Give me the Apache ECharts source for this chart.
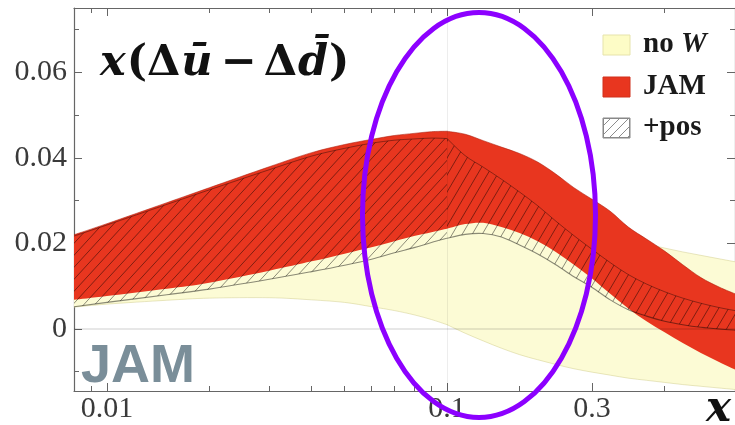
<!DOCTYPE html>
<html><head><meta charset="utf-8">
<script src="https://cdn.jsdelivr.net/npm/echarts@6/dist/echarts.min.js"></script>
<style>html,body{margin:0;padding:0;background:#fff}#c{width:735px;height:425px}</style>
</head><body><div id="c"></div>
<script>
// ---------------- data ----------------
const X = [0.008, 0.01, 0.015, 0.02, 0.03, 0.04, 0.05, 0.06, 0.07, 0.08, 0.09, 0.1,
           0.125, 0.15, 0.175, 0.2, 0.225, 0.25, 0.275, 0.3, 0.325, 0.35, 0.375, 0.4, 0.425, 0.45, 0.475, 0.5];
const noWLower = [0.0051, 0.0058, 0.0067, 0.0072, 0.0073, 0.0068, 0.0062, 0.0052, 0.0043, 0.0033, 0.0022, 0.0010,
                  -0.0010, -0.0028, -0.0045, -0.0060, -0.0072, -0.0083, -0.0093, -0.0101, -0.0108, -0.0115, -0.0120, -0.0125, -0.0130, -0.0134, -0.0138, -0.0142];
const noWUpper = [0.0120, 0.0130, 0.0160, 0.0180, 0.0220, 0.0250, 0.0270, 0.0290, 0.0300, 0.0310, 0.0320, 0.0330,
                  0.0330, 0.0320, 0.0310, 0.0290, 0.0270, 0.0250, 0.0230, 0.0215, 0.0208, 0.0203, 0.0198, 0.0189, 0.0180, 0.0172, 0.0164, 0.0156];
const jamLower = [0.0068, 0.0077, 0.0094, 0.0108, 0.0136, 0.0158, 0.0176, 0.0191, 0.0205, 0.0217, 0.0226, 0.0234,
                  0.0245, 0.0248, 0.0238, 0.0224, 0.0205, 0.0180, 0.0150, 0.0118, 0.0082, 0.0048, 0.0018, -0.0008, -0.0033, -0.0056, -0.0077, -0.0097];
const jamUpper = [0.0220, 0.0246, 0.0295, 0.0330, 0.0379, 0.0412, 0.0431, 0.0443, 0.0452, 0.0457, 0.0461, 0.0462,
                  0.0455, 0.0440, 0.0425, 0.0410, 0.0390, 0.0362, 0.0330, 0.0303, 0.0275, 0.0238, 0.0210, 0.0182, 0.0150, 0.0120, 0.0098, 0.0080];
const posLower = [0.0052, 0.0062, 0.0080, 0.0093, 0.0116, 0.0134, 0.0149, 0.0163, 0.0178, 0.0190, 0.0202, 0.0212,
                  0.0221, 0.0223, 0.0215, 0.0196, 0.0175, 0.0150, 0.0122, 0.0097, 0.0068, 0.0045, 0.0030, 0.0018, 0.0010, 0.0004, 0.0000, -0.0003];
const posUpper = [0.0217, 0.0243, 0.0291, 0.0325, 0.0372, 0.0404, 0.0422, 0.0434, 0.0441, 0.0444, 0.0446, 0.0445,
                  0.0405, 0.0378, 0.0350, 0.0320, 0.0288, 0.0252, 0.0218, 0.0186, 0.0155, 0.0127, 0.0105, 0.0087, 0.0072, 0.0060, 0.0050, 0.0042];

const yRange = [-0.0145, 0.075];
const xLogRange = [0.008, 0.1];
const xLinRange = [0.1, 0.497];
const yMajorTicks = [0, 0.02, 0.04, 0.06];
const yMinorTicks = [-0.01, 0.01, 0.03, 0.05, 0.07];
const yLabels = [0, 0.02, 0.04, 0.06];
const xLogMajorTicks = [0.01, 0.1];
const xLogMinorTicks = [0.009, 0.02, 0.03, 0.04, 0.05, 0.06, 0.07, 0.08, 0.09];
const xLinMajorTicks = [0.3];
const xLinMinorTicks = [0.2, 0.4];
const xLogLabels = [0.01];
const xLinLabels = [0.1, 0.3];
const legendNames = ['no ', 'JAM', '+pos'];

// ---------------- styles ----------------
const SERIF = '"Liberation Serif", "Times New Roman", serif';
const AXIS = '#666';
const YELLOW = '#fcfbd5';
const RED = '#e8361f';

function hatch(w, h, color) {
  const c = document.createElement('canvas');
  c.width = w; c.height = h;
  const g = c.getContext('2d');
  g.strokeStyle = color; g.lineWidth = 1;
  for (const dx of [-w, 0, w]) {
    g.beginPath(); g.moveTo(dx, h); g.lineTo(dx + w, 0); g.stroke();
  }
  return c;
}
const hatchLog = {image: hatch(11, 12, 'rgba(0,0,0,0.45)'), repeat: 'repeat'};
const hatchLin = {image: hatch(10, 17, 'rgba(0,0,0,0.45)'), repeat: 'repeat'};
const hatchLegend = {image: hatch(9, 9, 'rgba(0,0,0,0.45)'), repeat: 'repeat'};

const fmt = v => { const n = +(+v).toPrecision(3); return n === 0 ? '0' : String(n); };

function xa(grid, type, range, pos, ticks, len, labels, showLine) {
  return {
    type, gridIndex: grid, min: range[0], max: range[1], position: pos, logBase: 10,
    axisLine: {show: showLine, onZero: false, lineStyle: {color: AXIS, width: 1.2}},
    axisTick: {show: true, inside: true, length: len, customValues: ticks, lineStyle: {color: AXIS, width: 1}},
    axisLabel: labels ? {show: true, customValues: labels, margin: 3, color: '#3a3a3a',
      fontFamily: SERIF, fontSize: 30, formatter: fmt, showMinLabel: true, showMaxLabel: true} : {show: false},
    splitLine: {show: false}
  };
}
function ya(grid, pos, ticks, len, labels, showLine) {
  return {
    type: 'value', gridIndex: grid, min: yRange[0], max: yRange[1], position: pos,
    axisLine: {show: showLine, onZero: false, lineStyle: {color: AXIS, width: 1.2}},
    axisTick: {show: true, inside: true, length: len, customValues: ticks, lineStyle: {color: AXIS, width: 1}},
    axisLabel: labels ? {show: true, customValues: labels, margin: 7, color: '#3a3a3a',
      fontFamily: SERIF, fontSize: 30, formatter: fmt} : {show: false},
    splitLine: {show: false}
  };
}

const xAxis = [
  xa(0, 'log', xLogRange, 'bottom', xLogMajorTicks, 8, xLogLabels, true),   // 0
  xa(0, 'log', xLogRange, 'bottom', xLogMinorTicks, 5, null, false),        // 1
  xa(0, 'log', xLogRange, 'top', xLogMajorTicks, 8, null, true),            // 2
  xa(0, 'log', xLogRange, 'top', xLogMinorTicks, 5, null, false),           // 3
  xa(1, 'value', xLinRange, 'bottom', xLinMajorTicks, 8, xLinLabels, true), // 4
  xa(1, 'value', xLinRange, 'bottom', xLinMinorTicks, 5, null, false),      // 5
  xa(1, 'value', xLinRange, 'top', xLinMajorTicks, 8, null, true),          // 6
  xa(1, 'value', xLinRange, 'top', xLinMinorTicks, 5, null, false)          // 7
];
const yAxis = [
  ya(0, 'left', yMajorTicks, 8, yLabels, true),   // 0
  ya(0, 'left', yMinorTicks, 5, null, false),     // 1
  ya(1, 'right', yMajorTicks, 8, null, true),     // 2
  ya(1, 'right', yMinorTicks, 5, null, false)     // 3
];

const idxFor = g => X.map((x, i) => i).filter(i => g === 0 ? X[i] <= 0.1 : X[i] >= 0.1);

// Catmull-Rom -> cubic Bezier segments through pixel points
function segs(p) {
  let s = '';
  const k = 1 / 6;
  for (let i = 0; i < p.length - 1; i++) {
    const p0 = p[i - 1] || p[i], p1 = p[i], p2 = p[i + 1], p3 = p[i + 2] || p[i + 1];
    const c1 = [p1[0] + (p2[0] - p0[0]) * k, p1[1] + (p2[1] - p0[1]) * k];
    const c2 = [p2[0] - (p3[0] - p1[0]) * k, p2[1] - (p3[1] - p1[1]) * k];
    s += ' C' + c1[0] + ' ' + c1[1] + ' ' + c2[0] + ' ' + c2[1] + ' ' + p2[0] + ' ' + p2[1];
  }
  return s;
}
const open = p => 'M' + p[0][0] + ' ' + p[0][1] + segs(p);

function band(lower, upper, g, cfg) {
  const ids = idxFor(g);
  return {
    type: 'custom', coordinateSystem: 'cartesian2d',
    xAxisIndex: g === 0 ? 0 : 4, yAxisIndex: g === 0 ? 0 : 2,
    data: [0], z: cfg.z, silent: true, animation: false,
    renderItem: (params, api) => {
      const lo = ids.map(i => api.coord([X[i], lower[i]]));
      const hi = ids.map(i => api.coord([X[i], upper[i]])).reverse();
      const cs = params.coordSys;
      const fillPath = open(lo) + ' L' + hi[0][0] + ' ' + hi[0][1] + segs(hi) + ' Z';
      const children = [
        {type: 'path', shape: {pathData: fillPath}, style: {fill: typeof cfg.fill === 'function' ? cfg.fill(g) : cfg.fill, stroke: null}}
      ];
      if (cfg.loLine) children.push({type: 'path', shape: {pathData: open(lo)}, style: Object.assign({fill: null}, cfg.loLine)});
      if (cfg.hiLine) children.push({type: 'path', shape: {pathData: open(hi)}, style: Object.assign({fill: null}, cfg.hiLine)});
      return {
        type: 'group',
        clipPath: {type: 'rect', shape: {x: cs.x, y: cs.y, width: cs.width, height: cs.height}},
        children
      };
    }
  };
}

function gridLines(g) {
  const xr = g === 0 ? xLogRange : xLinRange;
  return {
    type: 'custom', coordinateSystem: 'cartesian2d',
    xAxisIndex: g === 0 ? 0 : 4, yAxisIndex: g === 0 ? 0 : 2,
    data: [0], z: 4, silent: true, animation: false,
    renderItem: (params, api) => {
      const a = api.coord([xr[0], 0]), b = api.coord([xr[1], 0]);
      const children = [{type: 'line', shape: {x1: a[0], y1: a[1], x2: b[0], y2: b[1]},
        style: {stroke: 'rgba(0,0,0,0.13)', lineWidth: 1.5}}];
      if (g === 1) {
        const t = api.coord([0.1, yRange[1]]), u = api.coord([0.1, yRange[0]]);
        children.push({type: 'line', shape: {x1: t[0] + 0.5, y1: t[1], x2: u[0] + 0.5, y2: u[1]},
          style: {stroke: 'rgba(0,0,0,0.07)', lineWidth: 1}});
      }
      return {type: 'group', children};
    }
  };
}

const bands = [
  [noWLower, noWUpper, {z: 1, fill: YELLOW,
    loLine: {stroke: 'rgba(205,200,130,0.45)', lineWidth: 1},
    hiLine: {stroke: 'rgba(205,200,130,0.45)', lineWidth: 1}}],
  [jamLower, jamUpper, {z: 2, fill: RED,
    hiLine: {stroke: 'rgba(170,25,10,0.55)', lineWidth: 1}}],
  [posLower, posUpper, {z: 3, fill: g => g === 0 ? hatchLog : hatchLin,
    loLine: {stroke: 'rgba(0,0,0,0.45)', lineWidth: 1.1},
    hiLine: {stroke: 'rgba(0,0,0,0.38)', lineWidth: 1}}]
];
const series = [];
for (const [lo, hi, cfg] of bands) for (const g of [0, 1]) series.push(band(lo, hi, g, cfg));
series.push(gridLines(0), gridLines(1));

const TF = '"DejaVu Serif", serif';
const graphic = [
  {type: 'text', x: 99, y: 64, z: 50, style: {
    text: '{i|x}{r|(Δ}{i|ū}{m|−}{r|Δ}{i|d̄}{r|)}', verticalAlign: 'middle', align: 'left',
    rich: {
      i: {fontFamily: TF, fontWeight: 'bold', fontStyle: 'italic', fontSize: 43, fill: '#111', padding: [0, 1]},
      r: {fontFamily: TF, fontWeight: 'bold', fontSize: 43, fill: '#111'},
      m: {fontFamily: TF, fontWeight: 'bold', fontSize: 43, fill: '#111', padding: [0, 7]}
    }}},
  // legend
  {type: 'rect', z: 50, shape: {x: 603, y: 35, width: 27, height: 20}, style: {fill: '#fdfcc6', stroke: '#e6e3ab', lineWidth: 1}},
  {type: 'rect', z: 50, shape: {x: 603, y: 77, width: 27, height: 20}, style: {fill: RED, stroke: '#d0301c', lineWidth: 1}},
  {type: 'rect', z: 50, shape: {x: 603, y: 118, width: 27, height: 20}, style: {fill: '#fff', stroke: '#888', lineWidth: 1}},
  {type: 'rect', z: 51, shape: {x: 603.5, y: 118.5, width: 26, height: 19}, style: {fill: hatchLegend, stroke: '#888', lineWidth: 1}},
  {type: 'text', x: 643, y: 45, z: 50, style: {
    text: '{r|' + legendNames[0] + '}{i|W}', verticalAlign: 'middle',
    rich: {
      r: {fontFamily: SERIF, fontWeight: 'bold', fontSize: 29, fill: '#1a1a1a'},
      i: {fontFamily: SERIF, fontWeight: 'bold', fontStyle: 'italic', fontSize: 29, fill: '#1a1a1a'}
    }}},
  {type: 'text', x: 643, y: 87, z: 50, style: {text: legendNames[1], verticalAlign: 'middle',
    font: 'bold 29px ' + SERIF, fill: '#1a1a1a'}},
  {type: 'text', x: 643, y: 128, z: 50, style: {text: legendNames[2], verticalAlign: 'middle',
    font: 'bold 29px ' + SERIF, fill: '#1a1a1a'}},
  // axis name
  {type: 'text', x: 706, y: 410, z: 50, style: {text: 'x', verticalAlign: 'middle',
    font: 'italic bold 42px ' + TF, fill: '#111'}},
  // JAM logo
  {type: 'text', x: 81, y: 367, z: 50, style: {text: 'JAM', verticalAlign: 'middle',
    font: 'bold 54px "Liberation Sans", Arial, sans-serif', fill: '#7a8e99'}},
  // annotation ellipse
  {type: 'ellipse', z: 100, shape: {cx: 479, cy: 215, rx: 116.5, ry: 202.5},
    style: {fill: 'none', stroke: '#8c00ff', lineWidth: 5}}
];

const chart = echarts.init(document.getElementById('c'), null, {renderer: 'canvas'});
chart.setOption({
  backgroundColor: '#fff',
  animation: false,
  grid: [
    {left: 74, top: 8, width: 373, height: 383},
    {left: 447, top: 8, width: 290, height: 383}
  ],
  xAxis, yAxis, series, graphic
});
</script></body></html>
